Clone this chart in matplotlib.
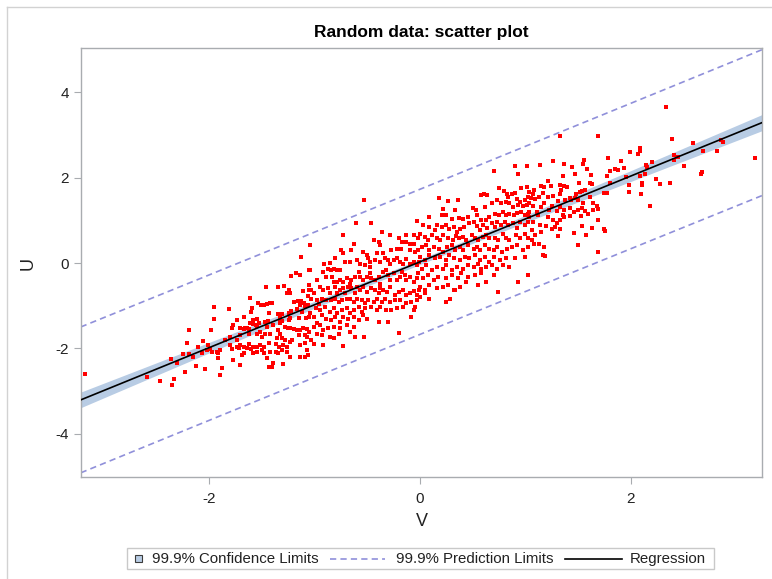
import numpy as np
import matplotlib
matplotlib.use("Agg")
import matplotlib.pyplot as plt
from matplotlib.lines import Line2D
from matplotlib.patches import Rectangle

plt.rcParams['font.family'] = ['Liberation Sans', 'DejaVu Sans']
plt.rcParams['lines.scale_dashes'] = False

# ---------------- data / texts ----------------
title = "Random data: scatter plot"
x_label = "V"
y_label = "U"
x_ticks = [-2, 0, 2]
y_ticks = [-4, -2, 0, 2, 4]
legend_labels = ["99.9% Confidence Limits", "99.9% Prediction Limits", "Regression"]
t_quantile = 3.30        # t(0.9995, n-2), 99.9% two sided
# regression fit
fit_intercept = 0.03
fit_slope = 1.005
fit_resid_sd = 0.515

# (V, U) pairs, grouped by region (left to right)
points_far_left = [
    (-3.18, -2.60), (-2.59, -2.67), (-2.47, -2.77), (-2.36, -2.25), (-2.31, -2.33), (-2.33, -2.71),
    (-2.35, -2.85), (-2.25, -2.12), (-2.19, -1.57), (-2.21, -1.88), (-2.19, -2.14), (-2.15, -2.21),
    (-2.13, -2.42), (-2.23, -2.55), (-2.11, -1.96),
]
points_left = [
    (-1.13, 0.15), (-1.22, -0.30), (-1.18, -0.22), (-1.14, -0.28), (-1.05, -0.15), (-1.46, -0.55), (-1.35, -0.57), (-1.29, -0.53), (-1.24, -0.63), (-1.26, -0.71),
    (-1.23, -0.71), (-1.11, -0.66), (-1.05, -0.51), (-1.05, -0.63), (-1.06, -0.76), (-1.61, -0.81), (-1.54, -0.93), (-1.51, -0.97), (-1.48, -0.98), (-1.45, -0.96),
    (-1.42, -0.94), (-1.40, -0.93), (-1.95, -1.02), (-1.81, -1.07), (-1.59, -1.04), (-1.60, -1.14), (-1.20, -0.91), (-1.16, -0.88), (-1.13, -0.88), (-1.10, -0.93),
    (-1.14, -0.98), (-1.09, -1.00), (-1.06, -0.98), (-1.43, -1.18), (-1.35, -1.19), (-1.33, -1.22), (-1.31, -1.19), (-1.24, -1.16), (-1.22, -1.12), (-1.17, -1.08),
    (-1.12, -1.15), (-1.95, -1.30), (-1.67, -1.26), (-1.74, -1.33), (-1.58, -1.33), (-1.55, -1.32), (-1.61, -1.41), (-1.58, -1.43), (-1.56, -1.45), (-1.55, -1.47),
    (-1.53, -1.41), (-1.47, -1.38), (-1.44, -1.35), (-1.39, -1.45), (-1.33, -1.31), (-1.33, -1.41), (-1.31, -1.36), (-1.24, -1.33), (-1.23, -1.28), (-1.28, -1.49),
    (-1.25, -1.51), (-1.23, -1.53), (-1.20, -1.55), (-1.17, -1.57), (-1.14, -1.57), (-1.11, -1.53), (-1.07, -1.54), (-1.15, -1.29), (-1.08, -1.28), (-1.05, -1.26),
    (-1.77, -1.45), (-1.78, -1.53), (-1.71, -1.52), (-1.67, -1.55), (-1.66, -1.53), (-1.64, -1.52), (-1.62, -1.54), (-1.98, -1.57), (-1.85, -1.80), (-1.80, -1.72),
    (-1.74, -1.79), (-1.71, -1.69), (-1.62, -1.65), (-1.55, -1.65), (-1.52, -1.61), (-1.50, -1.74), (-1.47, -1.65), (-1.45, -1.49), (-1.42, -1.65), (-1.35, -1.57),
    (-1.33, -1.65), (-1.36, -1.76), (-1.31, -1.76), (-1.28, -1.79), (-1.21, -1.80), (-1.15, -1.68), (-1.09, -1.68), (-1.07, -1.74), (-1.05, -1.61), (-2.06, -1.82),
    (-2.01, -1.92), (-1.99, -2.02), (-1.97, -2.08), (-1.93, -2.08), (-1.92, -2.11), (-2.02, -2.04), (-2.07, -2.11), (-1.80, -1.93), (-1.78, -2.02), (-1.74, -1.96),
    (-1.72, -2.00), (-1.71, -1.92), (-1.67, -1.96), (-1.64, -2.00), (-1.62, -1.90), (-1.60, -2.02), (-1.58, -1.96), (-1.55, -1.97), (-1.52, -1.92), (-1.50, -2.04),
    (-1.48, -1.96), (-1.43, -1.88), (-1.37, -1.90), (-1.34, -1.96), (-1.31, -2.04), (-1.30, -1.93), (-1.26, -1.96), (-1.23, -1.84), (-1.14, -1.93), (-1.09, -1.88),
    (-1.07, -2.04), (-1.90, -2.04), (-1.92, -2.23), (-1.77, -2.27), (-1.69, -2.15), (-1.67, -2.11), (-1.58, -2.11), (-1.55, -2.08), (-1.48, -2.11), (-1.42, -2.08),
    (-1.37, -2.08), (-1.35, -2.10), (-1.26, -2.08), (-1.23, -2.19), (-1.14, -2.19), (-1.09, -2.19), (-1.06, -2.15), (-2.04, -2.49), (-1.88, -2.46), (-1.90, -2.63),
    (-1.71, -2.39), (-1.43, -2.43), (-1.40, -2.43), (-1.39, -2.35), (-1.30, -2.37), (-1.45, -2.23),
]
points_center_left = [
    (-0.53, 1.47), (-0.61, 0.93), (-0.46, 0.93), (-0.03, 0.98), (-0.73, 0.67), (-0.36, 0.73), (-0.28, 0.67), (-1.04, 0.42), (-0.63, 0.44), (-0.44, 0.55),
    (-0.39, 0.50), (-0.38, 0.42), (-0.20, 0.58), (-0.13, 0.67), (-0.06, 0.67), (-0.02, 0.60), (-0.17, 0.50), (-0.13, 0.50), (-0.09, 0.44), (-0.06, 0.46),
    (-0.75, 0.30), (-0.73, 0.23), (-0.65, 0.30), (-0.54, 0.26), (-0.50, 0.19), (-0.49, 0.11), (-0.47, 0.03), (-0.41, 0.23), (-0.35, 0.23), (-0.27, 0.30),
    (-0.22, 0.32), (-0.18, 0.34), (-0.09, 0.30), (-0.05, 0.26), (-0.02, 0.30), (-0.81, 0.11), (-0.85, 0.01), (-0.91, -0.01), (-0.87, -0.13), (-0.84, -0.16),
    (-0.82, -0.13), (-0.79, -0.16), (-0.76, -0.16), (-0.71, 0.03), (-0.66, 0.03), (-0.60, 0.07), (-0.57, -0.01), (-0.52, -0.05), (-0.47, -0.09), (-0.43, 0.07),
    (-0.38, 0.03), (-0.33, 0.11), (-0.30, 0.07), (-0.28, -0.01), (-0.25, 0.07), (-0.22, 0.11), (-0.19, 0.03), (-0.16, -0.01), (-0.13, 0.09), (-0.09, -0.01),
    (-0.06, 0.03), (-0.03, -0.05), (-0.01, 0.03), (-1.04, -0.16), (-0.98, -0.40), (-0.92, -0.20), (-0.89, -0.32), (-0.83, -0.32), (-0.82, -0.44), (-0.79, -0.44),
    (-0.76, -0.40), (-0.73, -0.44), (-0.69, -0.36), (-0.66, -0.48), (-0.65, -0.40), (-0.62, -0.32), (-0.58, -0.20), (-0.57, -0.32), (-0.54, -0.40), (-0.50, -0.32),
    (-0.47, -0.24), (-0.46, -0.36), (-0.43, -0.40), (-0.39, -0.32), (-0.38, -0.48), (-0.35, -0.20), (-0.32, -0.16), (-0.30, -0.28), (-0.28, -0.40), (-0.25, -0.24),
    (-0.22, -0.40), (-0.19, -0.32), (-0.17, -0.20), (-0.14, -0.28), (-0.13, -0.40), (-0.09, -0.32), (-0.06, -0.44), (-0.03, -0.36), (-0.02, -0.24), (-1.03, -0.62),
    (-1.01, -0.71), (-0.95, -0.57), (-0.92, -0.62), (-0.87, -0.59), (-0.85, -0.71), (-0.81, -0.57), (-0.79, -0.71), (-0.76, -0.63), (-0.73, -0.59), (-0.71, -0.71),
    (-0.68, -0.55), (-0.65, -0.59), (-0.62, -0.71), (-0.60, -0.57), (-0.57, -0.63), (-0.54, -0.55), (-0.50, -0.67), (-0.46, -0.59), (-0.43, -0.63), (-0.39, -0.71),
    (-0.38, -0.59), (-0.35, -0.63), (-0.31, -0.67), (-0.28, -0.55), (-0.24, -0.75), (-0.20, -0.67), (-0.16, -0.63), (-0.13, -0.75), (-0.09, -0.71), (-0.06, -0.65),
    (-0.03, -0.75), (-0.01, -0.63), (-1.03, -0.83), (-0.98, -0.87), (-0.96, -0.96), (-0.93, -0.85), (-0.89, -0.87), (-0.84, -0.87), (-0.81, -0.83), (-0.77, -0.91),
    (-0.74, -0.87), (-0.69, -0.85), (-0.66, -0.83), (-0.63, -0.91), (-0.60, -0.83), (-0.55, -0.87), (-0.52, -0.94), (-0.49, -0.87), (-0.44, -0.91), (-0.41, -0.83),
    (-0.36, -0.91), (-0.33, -0.83), (-0.28, -0.91), (-0.24, -0.87), (-0.19, -0.87), (-0.13, -0.94), (-0.08, -0.91), (-0.03, -0.87), (-1.04, -1.18), (-0.99, -1.06),
    (-0.95, -1.10), (-0.90, -1.02), (-0.85, -1.14), (-0.82, -1.06), (-0.79, -1.18), (-0.74, -1.10), (-0.69, -1.06), (-0.66, -1.18), (-0.63, -1.10), (-0.58, -1.02),
    (-0.55, -1.14), (-0.52, -1.06), (-0.46, -1.02), (-0.41, -1.10), (-0.38, -1.02), (-0.32, -1.10), (-0.27, -1.10), (-0.22, -1.06), (-0.16, -1.02), (-0.06, -1.10),
    (-1.01, -1.26), (-0.98, -1.41), (-0.93, -1.22), (-0.89, -1.30), (-0.84, -1.33), (-0.81, -1.26), (-0.76, -1.37), (-0.73, -1.26), (-0.68, -1.30), (-0.63, -1.26),
    (-0.58, -1.33), (-0.54, -1.22), (-0.50, -1.30), (-0.39, -1.37), (-0.30, -1.37), (-1.01, -1.49), (-0.95, -1.45), (-0.92, -1.57), (-0.87, -1.53), (-0.82, -1.49),
    (-0.76, -1.53), (-0.69, -1.45), (-0.66, -1.61), (-0.63, -1.49), (-1.03, -1.80), (-0.98, -1.65), (-0.93, -1.69), (-0.85, -1.72), (-0.82, -1.76), (-0.77, -1.65),
    (-0.62, -1.74), (-0.53, -1.72), (-0.20, -1.63), (-0.73, -1.94), (-0.92, -1.92), (-1.01, -1.90), (-0.05, -1.02), (-0.08, -1.26),
]
points_center_right = [
    (0.90, 2.27), (1.02, 2.28), (0.70, 2.15), (0.93, 2.10), (0.18, 1.53), (0.27, 1.45), (0.36, 1.47), (0.58, 1.59), (0.61, 1.61), (0.64, 1.59),
    (0.75, 1.75), (0.80, 1.69), (0.83, 1.63), (0.87, 1.63), (0.90, 1.64), (0.96, 1.75), (1.02, 1.79), (1.04, 1.67), (0.84, 1.55), (0.92, 1.51),
    (0.95, 1.43), (0.995, 1.47), (1.03, 1.55), (0.33, 1.25), (0.22, 1.28), (0.50, 1.30), (0.53, 1.24), (0.62, 1.32), (0.68, 1.40), (0.73, 1.47),
    (0.77, 1.40), (0.82, 1.43), (0.85, 1.40), (0.88, 1.32), (0.93, 1.36), (0.98, 1.33), (1.02, 1.36), (1.04, 1.40), (0.09, 1.08), (0.21, 1.12),
    (0.25, 1.12), (0.30, 1.04), (0.37, 1.06), (0.41, 1.04), (0.46, 1.08), (0.54, 1.12), (0.58, 1.02), (0.63, 1.00), (0.66, 1.08), (0.71, 1.16),
    (0.75, 1.12), (0.79, 1.20), (0.82, 1.12), (0.85, 1.16), (0.89, 1.12), (0.92, 1.18), (0.96, 1.20), (0.995, 1.12), (1.03, 1.16), (0.03, 0.89),
    (0.09, 0.85), (0.14, 0.77), (0.16, 0.89), (0.21, 0.85), (0.25, 0.89), (0.28, 0.79), (0.32, 0.85), (0.35, 0.73), (0.38, 0.81), (0.42, 0.85),
    (0.47, 0.93), (0.51, 0.97), (0.54, 0.86), (0.57, 0.77), (0.60, 0.89), (0.64, 0.83), (0.68, 0.93), (0.71, 0.85), (0.73, 0.97), (0.77, 0.89),
    (0.81, 0.97), (0.84, 0.89), (0.88, 0.94), (0.92, 0.83), (0.95, 0.97), (0.995, 0.89), (1.03, 0.97), (0.00, 0.69), (0.05, 0.62), (0.08, 0.54),
    (0.11, 0.65), (0.16, 0.60), (0.19, 0.54), (0.22, 0.65), (0.27, 0.60), (0.31, 0.54), (0.34, 0.63), (0.37, 0.58), (0.41, 0.62), (0.44, 0.54),
    (0.49, 0.65), (0.52, 0.58), (0.55, 0.54), (0.60, 0.62), (0.63, 0.65), (0.66, 0.58), (0.71, 0.60), (0.74, 0.54), (0.79, 0.69), (0.82, 0.60),
    (0.85, 0.54), (0.91, 0.65), (0.95, 0.60), (0.995, 0.69), (1.03, 0.58), (0.02, 0.38), (0.06, 0.42), (0.09, 0.30), (0.13, 0.38), (0.18, 0.34),
    (0.22, 0.26), (0.26, 0.38), (0.30, 0.42), (0.33, 0.30), (0.38, 0.38), (0.41, 0.30), (0.46, 0.42), (0.51, 0.34), (0.54, 0.38), (0.57, 0.30),
    (0.62, 0.42), (0.66, 0.34), (0.70, 0.30), (0.73, 0.38), (0.78, 0.26), (0.83, 0.34), (0.87, 0.38), (0.92, 0.42), (0.98, 0.30), (1.03, 0.38),
    (0.00, 0.15), (0.05, 0.07), (0.09, 0.19), (0.14, 0.11), (0.19, 0.15), (0.25, 0.07), (0.28, 0.19), (0.32, 0.11), (0.38, 0.07), (0.43, 0.15),
    (0.47, 0.11), (0.52, 0.19), (0.57, 0.07), (0.62, 0.15), (0.66, 0.03), (0.70, 0.15), (0.76, 0.07), (0.82, 0.13), (0.90, 0.11), (0.995, 0.15),
    (0.02, -0.13), (0.06, -0.05), (0.11, -0.17), (0.16, -0.09), (0.22, -0.13), (0.25, -0.05), (0.30, -0.17), (0.35, -0.09), (0.41, -0.13), (0.46, -0.05),
    (0.51, -0.09), (0.55, -0.01), (0.58, -0.13), (0.63, -0.09), (0.68, -0.05), (0.73, -0.13), (0.79, -0.05), (0.85, -0.09), (0.03, -0.36), (0.08, -0.28),
    (0.13, -0.40), (0.17, -0.32), (0.25, -0.36), (0.30, -0.28), (0.36, -0.36), (0.39, -0.24), (0.46, -0.32), (0.52, -0.28), (0.58, -0.24), (0.70, -0.28),
    (0.93, -0.44), (1.03, -0.28), (0.00, -0.55), (0.05, -0.63), (0.09, -0.52), (0.16, -0.59), (0.22, -0.55), (0.27, -0.52), (0.33, -0.63), (0.38, -0.55),
    (0.44, -0.44), (0.55, -0.52), (0.63, -0.44), (0.00, -0.79), (0.05, -0.71), (0.09, -0.83), (0.25, -0.91), (0.29, -0.85), (0.32, -0.63), (0.74, -0.67),
]
points_right = [
    (1.33, 2.98), (1.69, 2.97), (1.99, 2.61), (1.79, 2.46), (1.26, 2.39), (1.37, 2.32), (1.56, 2.41), (1.55, 2.33), (1.91, 2.39), (1.14, 2.30),
    (1.44, 2.25), (1.59, 2.20), (1.85, 2.20), (1.88, 2.18), (1.80, 2.15), (1.94, 2.23), (1.47, 2.10), (1.36, 2.04), (1.62, 2.07), (1.78, 2.05),
    (1.96, 2.02), (1.22, 1.92), (1.51, 1.89), (1.61, 1.89), (1.63, 1.86), (1.80, 1.89), (1.985, 1.84), (1.15, 1.80), (1.18, 1.78), (1.24, 1.80),
    (1.33, 1.82), (1.37, 1.80), (1.34, 1.72), (1.40, 1.79), (1.08, 1.71), (1.07, 1.63), (1.54, 1.69), (1.52, 1.66), (1.57, 1.71), (1.75, 1.64),
    (1.78, 1.64), (1.985, 1.66), (1.17, 1.64), (1.26, 1.57), (1.33, 1.62), (1.47, 1.52), (1.48, 1.62), (1.42, 1.53), (1.61, 1.54), (1.05, 1.53),
    (1.09, 1.50), (1.13, 1.55), (1.22, 1.54), (1.31, 1.45), (1.38, 1.48), (1.43, 1.47), (1.50, 1.47), (1.55, 1.40), (1.64, 1.41), (1.68, 1.33),
    (1.07, 1.33), (1.15, 1.32), (1.18, 1.40), (1.25, 1.33), (1.33, 1.32), (1.37, 1.24), (1.42, 1.30), (1.46, 1.20), (1.50, 1.24), (1.54, 1.30),
    (1.57, 1.22), (1.64, 1.24), (1.69, 1.28), (1.04, 1.20), (1.11, 1.20), (1.23, 1.24), (1.30, 1.22), (1.36, 1.12), (1.42, 1.10), (1.53, 1.10),
    (1.60, 1.16), (1.04, 1.08), (1.12, 1.12), (1.22, 1.08), (1.26, 1.00), (1.33, 1.00), (1.37, 1.08), (1.69, 1.02), (1.07, 0.97), (1.14, 0.89),
    (1.20, 0.86), (1.25, 0.81), (1.28, 0.85), (1.30, 0.93), (1.33, 0.81), (1.54, 0.86), (1.63, 0.83), (1.75, 0.81), (1.76, 0.75), (1.06, 0.77),
    (1.09, 0.65), (1.15, 0.73), (1.31, 0.63), (1.46, 0.71), (1.58, 0.67), (1.06, 0.54), (1.08, 0.46), (1.13, 0.44), (1.18, 0.38), (1.17, 0.19),
    (1.19, 0.16), (1.50, 0.43), (1.69, 0.25),
]
points_far_right = [
    (2.34, 3.67), (2.39, 2.92), (2.59, 2.81), (2.86, 2.88), (2.88, 2.83), (2.82, 2.64), (2.69, 2.64), (3.18, 2.47), (2.41, 2.54), (2.45, 2.48),
    (2.41, 2.41), (2.51, 2.27), (2.68, 2.14), (2.67, 2.09), (2.37, 1.89), (2.28, 1.86), (2.24, 1.98), (2.18, 1.33), (2.10, 1.62), (2.11, 1.88),
    (2.11, 1.82), (2.09, 2.04), (2.14, 2.09), (2.15, 2.31), (2.16, 2.25), (2.20, 2.37), (2.09, 2.69), (2.09, 2.63), (2.07, 2.57),
]

pts = np.array(points_far_left + points_left + points_center_left +
               points_center_right + points_right + points_far_right)
V = pts[:, 0]
U = pts[:, 1]

# ---------------- regression band statistics ----------------
n = len(V)
xbar = V.mean()
sxx = np.sum((V - xbar) ** 2)

# ---------------- styles ----------------
W, H = 772, 579
def fx(px):
    return px / W
def fy(py):
    return 1 - py / H

band_color = '#b8cce4'
dash_color = '#9090da'
frame_color = '#a9acb0'
text_color = '#222222'
dash_pat = (4.5, 3.0)

fig = plt.figure(figsize=(W / 100, H / 100), dpi=100)
ax = fig.add_axes([fx(80.7), fy(477.3), fx(762.3) - fx(80.7), fy(47.7) - fy(477.3)])
xlim = (-3.22, 3.25)
ax.set_xlim(*xlim)
ax.set_ylim(-5.02, 5.05)

xg = np.linspace(xlim[0], xlim[1], 300)
yfit = fit_intercept + fit_slope * xg
ci = t_quantile * fit_resid_sd * np.sqrt(1 / n + (xg - xbar) ** 2 / sxx)
pi = t_quantile * fit_resid_sd * np.sqrt(1 + 1 / n + (xg - xbar) ** 2 / sxx)

ax.fill_between(xg, yfit - ci, yfit + ci, color=band_color, lw=0, zorder=1)
ax.plot(xg, yfit + pi, color=dash_color, lw=1.2, dashes=dash_pat, zorder=2)
ax.plot(xg, yfit - pi, color=dash_color, lw=1.2, dashes=dash_pat, zorder=2)
ax.scatter(V, U, s=10, marker='s', color='#ff0000', linewidths=0, zorder=3)
ax.plot(xg, yfit, color='black', lw=1.2, zorder=4)

ax.set_xticks(x_ticks)
ax.set_yticks(y_ticks)
ax.set_xticklabels([str(t) for t in x_ticks])
ax.set_yticklabels([str(t) for t in y_ticks])
for sp in ax.spines.values():
    sp.set_color(frame_color)
    sp.set_linewidth(1.0)
ax.tick_params(direction='out', length=4.8, width=0.8, color=frame_color,
               labelsize=11, labelcolor=text_color)
ax.tick_params(axis='x', pad=6.0)
ax.tick_params(axis='y', pad=3.5)

fig.text(fx(421.5), fy(522), x_label, ha='center', va='center', fontsize=13, color=text_color)
fig.text(fx(28), fy(263), y_label, ha='center', va='center', fontsize=13, color=text_color, rotation=90)
fig.text(fx(421.5), fy(32), title, ha='center', va='center', fontsize=12.5, fontweight='bold', color='black')

# outer border (left/top visible)
fig.add_artist(Line2D([fx(6.5), fx(6.5)], [fy(6.5), 0], color='#d2d2d2', lw=1.0, transform=fig.transFigure))
fig.add_artist(Line2D([fx(6.5), 1], [fy(6.5), fy(6.5)], color='#d2d2d2', lw=1.0, transform=fig.transFigure))

# ---------------- legend ----------------
ly = 558.7
fig.add_artist(Rectangle((fx(127), fy(569.3)), fx(714) - fx(127), fy(548.3) - fy(569.3),
                         fill=False, edgecolor='#c9c9c9', lw=1.0, transform=fig.transFigure))
fig.add_artist(Rectangle((fx(135), fy(562)), fx(142) - fx(135), fy(555) - fy(562),
                         facecolor=band_color, edgecolor='#3c3c3c', lw=0.8, transform=fig.transFigure))
fig.text(fx(151.7), fy(ly), legend_labels[0], ha='left', va='center', fontsize=10.8, color=text_color)
fig.add_artist(Line2D([fx(330), fx(385)], [fy(ly), fy(ly)], color=dash_color, lw=1.2,
                      dashes=dash_pat, transform=fig.transFigure))
fig.text(fx(396), fy(ly), legend_labels[1], ha='left', va='center', fontsize=10.8, color=text_color)
fig.add_artist(Line2D([fx(565), fx(621.7)], [fy(ly), fy(ly)], color='black', lw=1.2,
                      transform=fig.transFigure))
fig.text(fx(629.3), fy(ly), legend_labels[2], ha='left', va='center', fontsize=10.8, color=text_color)

fig.savefig('out.png', dpi=100)
